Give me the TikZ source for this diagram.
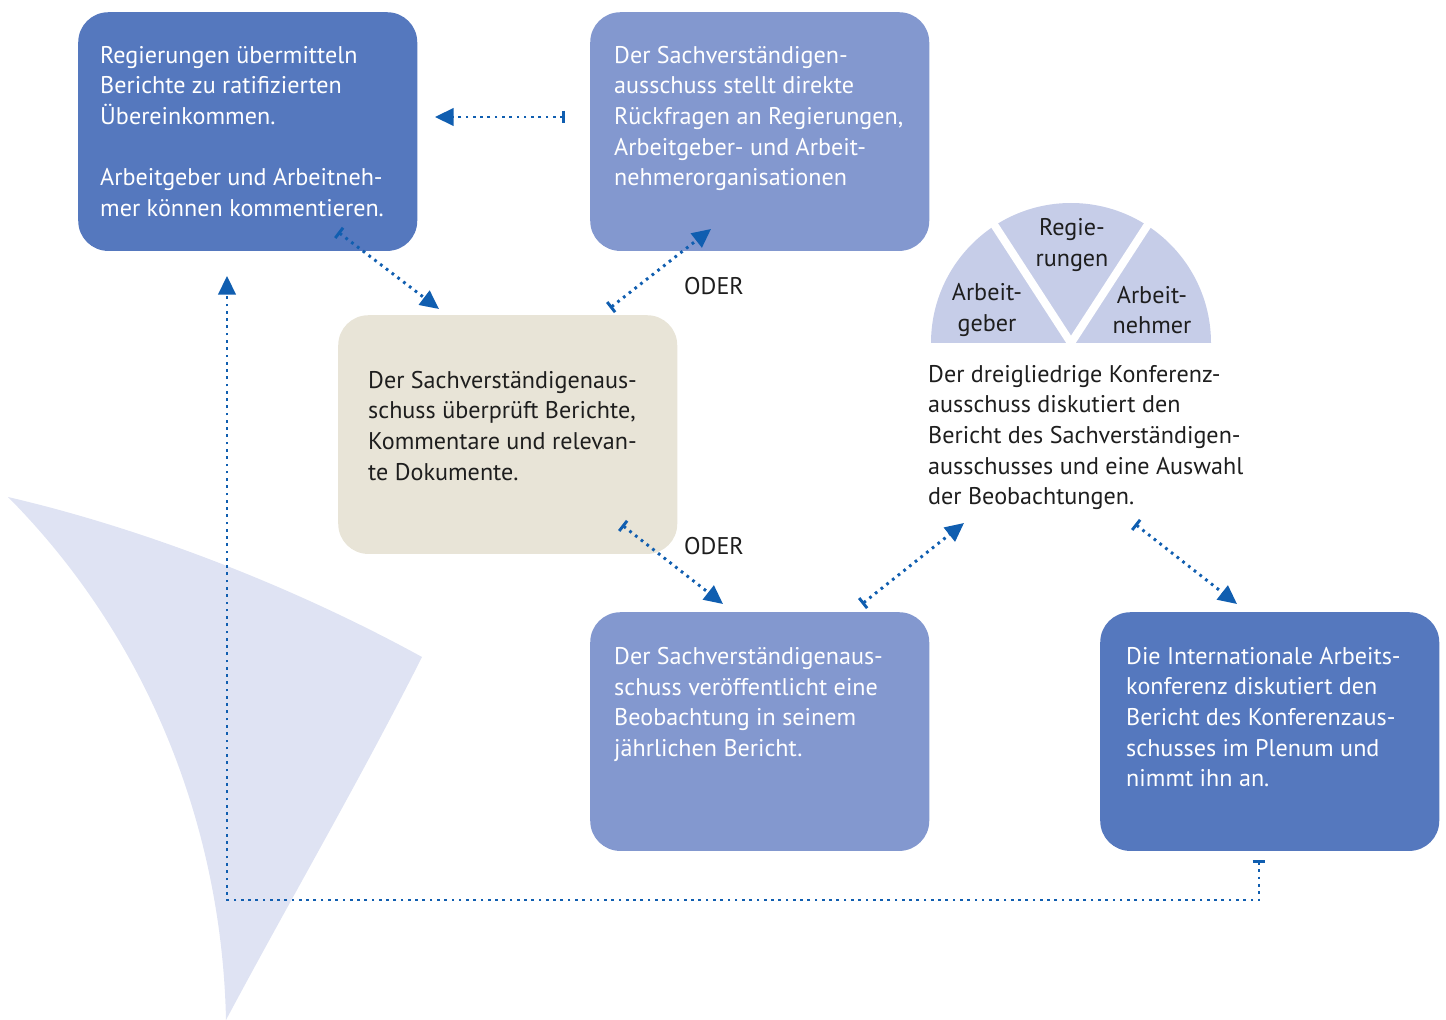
\documentclass[tikz,border=0pt]{standalone}
\usepackage{fontspec}
\setmainfont{PT Sans}
\usetikzlibrary{arrows.meta}
\definecolor{darkbox}{HTML}{5578BE}
\definecolor{lightbox}{HTML}{8398CF}
\definecolor{beigebox}{HTML}{E8E4D7}
\definecolor{semi}{HTML}{C6CDE8}
\definecolor{sail}{HTML}{DFE3F3}
\definecolor{arrowblue}{HTML}{105EB0}
\definecolor{darktext}{HTML}{1E1E1E}
\begin{document}
\begin{tikzpicture}[x=0.03cm,y=-0.03cm,
  box/.style={rounded corners=0.9cm, minimum width=10.17cm, minimum height=7.16cm, anchor=north west, inner sep=0, draw=none},
  txt/.style={anchor=north west, inner sep=0, align=left, font=\fontsize{20.6}{26.1}\selectfont},
  ctxt/.style={anchor=center, inner sep=0, align=center, font=\fontsize{20.6}{26.1}\selectfont, text=darktext},
  link/.style={draw=arrowblue, line width=2.5pt, dash pattern=on 2.3pt off 3.9pt, {Bar[width=11pt]}-{Triangle[length=16pt,width=15pt]}}
]
\useasboundingbox (0,0) rectangle (1446,1020);

% background sail
\fill[sail] (8,497) .. controls (150,530) and (300,590) .. (422,657)
  .. controls (360,780) and (290,900) .. (226,1020)
  .. controls (222,830) and (150,640) .. (8,497) -- cycle;

% boxes
\node[box, fill=darkbox] (b1) at (78,12) {};
\node[box, fill=lightbox] (b2) at (590,12) {};
\node[box, fill=beigebox] (b3) at (338,315) {};
\node[box, fill=lightbox] (b4) at (590,612) {};
\node[box, fill=darkbox] (b5) at (1100,612) {};

% box texts
\node[txt, text=white] (t1) at (100,46) {Regierungen übermitteln\\Berichte zu ratifizierten\\Übereinkommen.\\[26.1pt]Arbeitgeber und Arbeitneh-\\mer können kommentieren.};
\node[txt, text=white] (t2) at (614,46) {Der Sachverständigen-\\ausschuss stellt direkte\\Rückfragen an Regierungen,\\Arbeitgeber- und Arbeit-\\nehmerorganisationen};
\node[txt, text=darktext] (t3) at (368,371) {Der Sachverständigenaus-\\schuss überprüft Berichte,\\Kommentare und relevan-\\te Dokumente.};
\node[txt, text=white] (t4) at (614,647) {Der Sachverständigenaus-\\schuss veröffentlicht eine\\Beobachtung in seinem\\jährlichen Bericht.};
\node[txt, text=white] (t5) at (1126,647) {Die Internationale Arbeits-\\konferenz diskutiert den\\Bericht des Konferenzaus-\\schusses im Plenum und\\nimmt ihn an.};
\node[txt, text=darktext] (t6) at (928,365) {Der dreigliedrige Konferenz-\\ausschuss diskutiert den\\Bericht des Sachverständigen-\\ausschusses und eine Auswahl\\der Beobachtungen.};

% semicircle
\coordinate (sc) at (1071,343);
\fill[semi] (931,343) arc[start angle=180, end angle=360, radius=140] -- cycle;
\draw[white, line width=6.8pt] (sc) -- ++(-57:150);
\draw[white, line width=6.8pt] (sc) -- ++(-123:150);
\node[ctxt] (s1) at (1072,245) {Regie-\\rungen};
\node[ctxt] (s2) at (987,310) {Arbeit-\\geber};
\node[ctxt] (s3) at (1152,310) {Arbeit-\\nehmer};

% ODER labels
\node[ctxt] (o1) at (714,286) {ODER};
\node[ctxt] (o2) at (714,546) {ODER};

% connector end points
\coordinate (a1s) at (565,117);  \coordinate (a1e) at (435,117);
\coordinate (a2s) at (338,232);  \coordinate (a2e) at (439,309);
\coordinate (a3s) at (610,308);  \coordinate (a3e) at (711,229);
\coordinate (a4s) at (622,525);  \coordinate (a4e) at (723,604);
\coordinate (a5s) at (862,604);  \coordinate (a5e) at (964,523);
\coordinate (a6s) at (1135,524); \coordinate (a6e) at (1237,604);
\coordinate (a7s) at (1259,860); \coordinate (a7e) at (227,276);

\draw[link] (a1s) -- (a1e);
\draw[link] (a2s) -- (a2e);
\draw[link] (a3s) -- (a3e);
\draw[link] (a4s) -- (a4e);
\draw[link] (a5s) -- (a5e);
\draw[link] (a6s) -- (a6e);
\draw[link] (a7s) -- (1259,900) -- (227,900) -- (a7e);
\end{tikzpicture}
\end{document}
